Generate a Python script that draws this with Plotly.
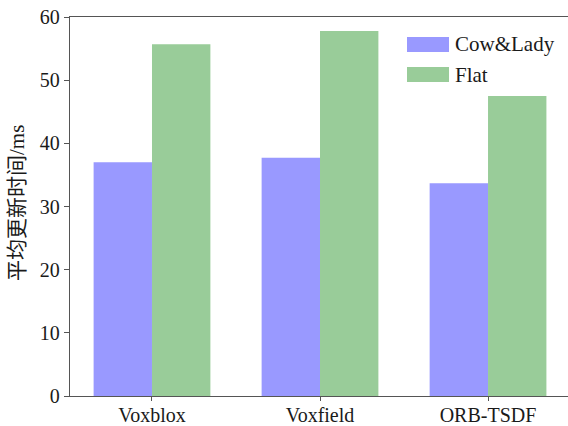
import plotly.graph_objects as go

# Average map update time per method on two datasets
methods = ["Voxblox", "Voxfield", "ORB-TSDF"]
cow_lady = [37.0, 37.7, 33.7]
flat = [55.7, 57.8, 47.5]
series_names = ["Cow&Lady", "Flat"]
series_colors = ["#9999FF", "#99CC99"]
y_ticks = [0, 10, 20, 30, 40, 50, 60]

W, H = 568, 426
ML, MR, MT, MB = 70, 0, 17, 30
FONT = "Liberation Serif, Noto Sans CJK SC, serif"

fig = go.Figure()
for name, vals, col in zip(series_names, [cow_lady, flat], series_colors):
    fig.add_trace(go.Bar(
        x=methods, y=vals, name=name,
        marker=dict(color=col, line=dict(width=0)),
        showlegend=False,
    ))

axis_col = "#555555"
fig.update_layout(
    width=W, height=H,
    margin=dict(l=ML, r=MR, t=MT, b=MB, autoexpand=False),
    paper_bgcolor="white", plot_bgcolor="white",
    barmode="group", bargap=0.305, bargroupgap=0,
    font=dict(family=FONT, size=20, color="#1a1a1a"),
    xaxis=dict(
        range=[-0.488, 2.476], showline=True, linecolor=axis_col, linewidth=1.3,
        mirror=True, ticks="outside", ticklen=4, tickcolor=axis_col,
        showgrid=False, tickfont=dict(size=20), automargin=False,
        ticklabelstandoff=-3,
    ),
    yaxis=dict(
        range=[0, 60], tickvals=y_ticks, showline=True, linecolor=axis_col,
        linewidth=1.3, ticks="outside", ticklen=5, tickcolor=axis_col,
        showgrid=False, zeroline=False, tickfont=dict(size=20), automargin=False,
    ),
)

# Y-axis title
pw = W - ML - MR
ph = H - MT - MB
fig.add_annotation(
    text="平均更新时间/ms", textangle=-90, showarrow=False,
    xref="paper", yref="paper", x=(17 - ML) / pw, y=(H - MB - 203) / ph,
    xanchor="center", yanchor="middle", font=dict(size=21),
)

# Legend drawn as wide swatches with labels
def px_x(v):
    return (v - ML) / pw
def px_y(v):
    return (H - MB - v) / ph

for i, (name, col) in enumerate(zip(series_names, series_colors)):
    y0 = 37 + i * 30
    fig.add_shape(
        type="rect", xref="paper", yref="paper",
        x0=px_x(407), x1=px_x(449), y0=px_y(y0 + 15), y1=px_y(y0),
        fillcolor=col, line=dict(width=0),
    )
    fig.add_annotation(
        text=name, showarrow=False, xref="paper", yref="paper",
        x=px_x(453), y=px_y(y0 + 7.5), xanchor="left", yanchor="middle",
        font=dict(size=21),
    )

fig.write_html("out.html")
